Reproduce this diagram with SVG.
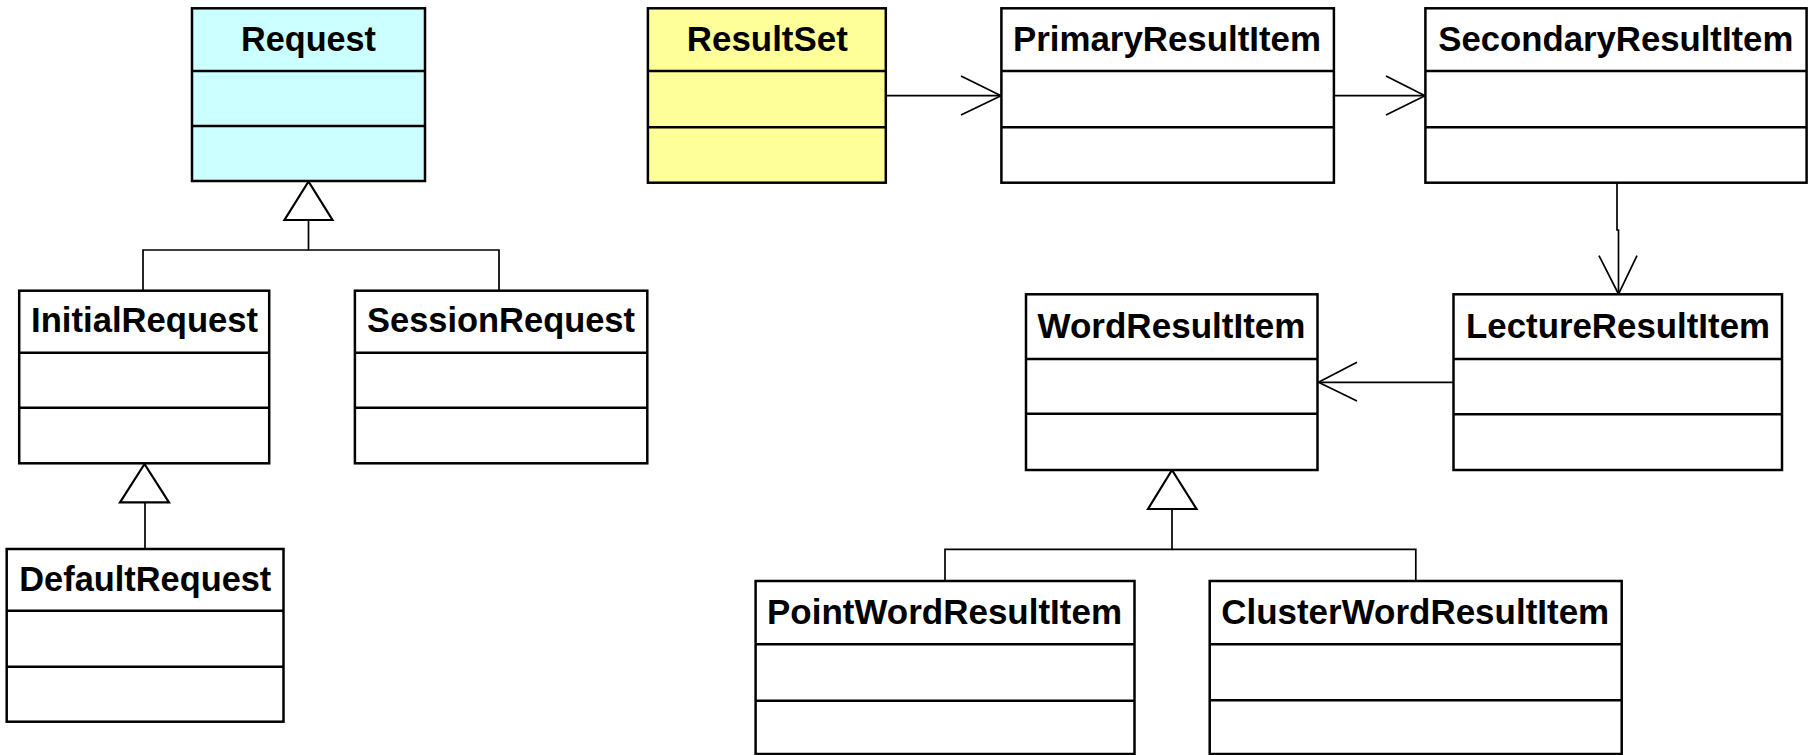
<svg xmlns="http://www.w3.org/2000/svg" width="1816" height="755" viewBox="0 0 1816 755">
<style>
.box{fill:#fff;stroke:#000;stroke-width:2.5}
.div{stroke:#000;stroke-width:2.5}
.t{font-family:"Liberation Sans",Arial,Helvetica,sans-serif;font-weight:bold;font-size:34.8px;text-anchor:middle;fill:#000}
.c{fill:none;stroke:#000;stroke-width:1.7}
.tri{fill:#fff;stroke:#000;stroke-width:2.2;stroke-linejoin:miter}
</style>
<rect width="1816" height="755" fill="#fff"/>
<g id="connectors">
<polygon class="tri" points="308.5,181.5 284.5,220 332.5,220"/>
<polyline class="c" points="308.5,220 308.5,250 143,250 143,290.7"/>
<polyline class="c" points="308.5,250 499,250 499,290.7"/>
<polygon class="tri" points="144.5,464 120,502.3 169,502.3"/>
<line class="c" x1="145" y1="502.3" x2="145" y2="549"/>
<line class="c" x1="886" y1="95.7" x2="1001" y2="95.7"/>
<polyline class="c" points="961,76 1001,95.7 961,115"/>
<line class="c" x1="1334" y1="95.7" x2="1425" y2="95.7"/>
<polyline class="c" points="1386,76 1425,95.7 1386,115"/>
<polyline class="c" points="1617,183 1617,230 1618.5,230 1618.5,294"/>
<polyline class="c" points="1599,255.7 1618.5,294 1637,255.7"/>
<line class="c" x1="1453.5" y1="382.3" x2="1318.5" y2="382.3"/>
<polyline class="c" points="1357,362.3 1318.5,382.3 1357,401"/>
<polygon class="tri" points="1172,470 1148,509 1196.5,509"/>
<polyline class="c" points="1172,509 1172,549.3 945,549.3 945,581"/>
<polyline class="c" points="1172,549.3 1415.8,549.3 1415.8,581"/>
</g>
<g id="Request">
<rect class="box" x="192" y="8.3" width="233" height="172.7" style="fill:#ccffff"/>
<line class="div" x1="192" y1="71" x2="425" y2="71"/>
<line class="div" x1="192" y1="126" x2="425" y2="126"/>
<text class="t" x="308.5" y="51" textLength="135" lengthAdjust="spacingAndGlyphs">Request</text>
</g>
<g id="InitialRequest">
<rect class="box" x="19.2" y="290.7" width="250" height="172.6"/>
<line class="div" x1="19.2" y1="352.7" x2="269.2" y2="352.7"/>
<line class="div" x1="19.2" y1="407.7" x2="269.2" y2="407.7"/>
<text class="t" x="144.6" y="332" textLength="227" lengthAdjust="spacingAndGlyphs">InitialRequest</text>
</g>
<g id="SessionRequest">
<rect class="box" x="354.9" y="290.7" width="292.4" height="172.6"/>
<line class="div" x1="354.9" y1="352.7" x2="647.3" y2="352.7"/>
<line class="div" x1="354.9" y1="407.7" x2="647.3" y2="407.7"/>
<text class="t" x="501" y="332" textLength="268" lengthAdjust="spacingAndGlyphs">SessionRequest</text>
</g>
<g id="DefaultRequest">
<rect class="box" x="6.7" y="549" width="276.8" height="172.7"/>
<line class="div" x1="6.7" y1="610.7" x2="283.5" y2="610.7"/>
<line class="div" x1="6.7" y1="666.7" x2="283.5" y2="666.7"/>
<text class="t" x="145.3" y="590.5" textLength="252" lengthAdjust="spacingAndGlyphs">DefaultRequest</text>
</g>
<g id="ResultSet">
<rect class="box" x="647.9" y="8.3" width="237.9" height="174.4" style="fill:#ffff99"/>
<line class="div" x1="647.9" y1="71" x2="885.8" y2="71"/>
<line class="div" x1="647.9" y1="127.3" x2="885.8" y2="127.3"/>
<text class="t" x="767.3" y="51" textLength="161" lengthAdjust="spacingAndGlyphs">ResultSet</text>
</g>
<g id="PrimaryResultItem">
<rect class="box" x="1001.4" y="8.3" width="332.5" height="174.4"/>
<line class="div" x1="1001.4" y1="71" x2="1333.9" y2="71"/>
<line class="div" x1="1001.4" y1="127.3" x2="1333.9" y2="127.3"/>
<text class="t" x="1167" y="51" textLength="308" lengthAdjust="spacingAndGlyphs">PrimaryResultItem</text>
</g>
<g id="SecondaryResultItem">
<rect class="box" x="1425.4" y="8.3" width="381.2" height="174.4"/>
<line class="div" x1="1425.4" y1="71" x2="1806.6" y2="71"/>
<line class="div" x1="1425.4" y1="127.3" x2="1806.6" y2="127.3"/>
<text class="t" x="1615.8" y="51" textLength="355" lengthAdjust="spacingAndGlyphs">SecondaryResultItem</text>
</g>
<g id="WordResultItem">
<rect class="box" x="1026" y="294.3" width="291.5" height="175.7"/>
<line class="div" x1="1026" y1="359" x2="1317.5" y2="359"/>
<line class="div" x1="1026" y1="413.7" x2="1317.5" y2="413.7"/>
<text class="t" x="1171.5" y="337.5" textLength="268" lengthAdjust="spacingAndGlyphs">WordResultItem</text>
</g>
<g id="LectureResultItem">
<rect class="box" x="1453.5" y="294.3" width="328.5" height="175.7"/>
<line class="div" x1="1453.5" y1="359" x2="1782" y2="359"/>
<line class="div" x1="1453.5" y1="414.3" x2="1782" y2="414.3"/>
<text class="t" x="1618" y="337.5" textLength="304" lengthAdjust="spacingAndGlyphs">LectureResultItem</text>
</g>
<g id="PointWordResultItem">
<rect class="box" x="755.6" y="581" width="378.9" height="173"/>
<line class="div" x1="755.6" y1="644.3" x2="1134.5" y2="644.3"/>
<line class="div" x1="755.6" y1="700.7" x2="1134.5" y2="700.7"/>
<text class="t" x="944.5" y="623.5" textLength="355" lengthAdjust="spacingAndGlyphs">PointWordResultItem</text>
</g>
<g id="ClusterWordResultItem">
<rect class="box" x="1209.7" y="581" width="412" height="173"/>
<line class="div" x1="1209.7" y1="644.3" x2="1621.7" y2="644.3"/>
<line class="div" x1="1209.7" y1="700.3" x2="1621.7" y2="700.3"/>
<text class="t" x="1415.2" y="623.5" textLength="388" lengthAdjust="spacingAndGlyphs">ClusterWordResultItem</text>
</g>
</svg>
